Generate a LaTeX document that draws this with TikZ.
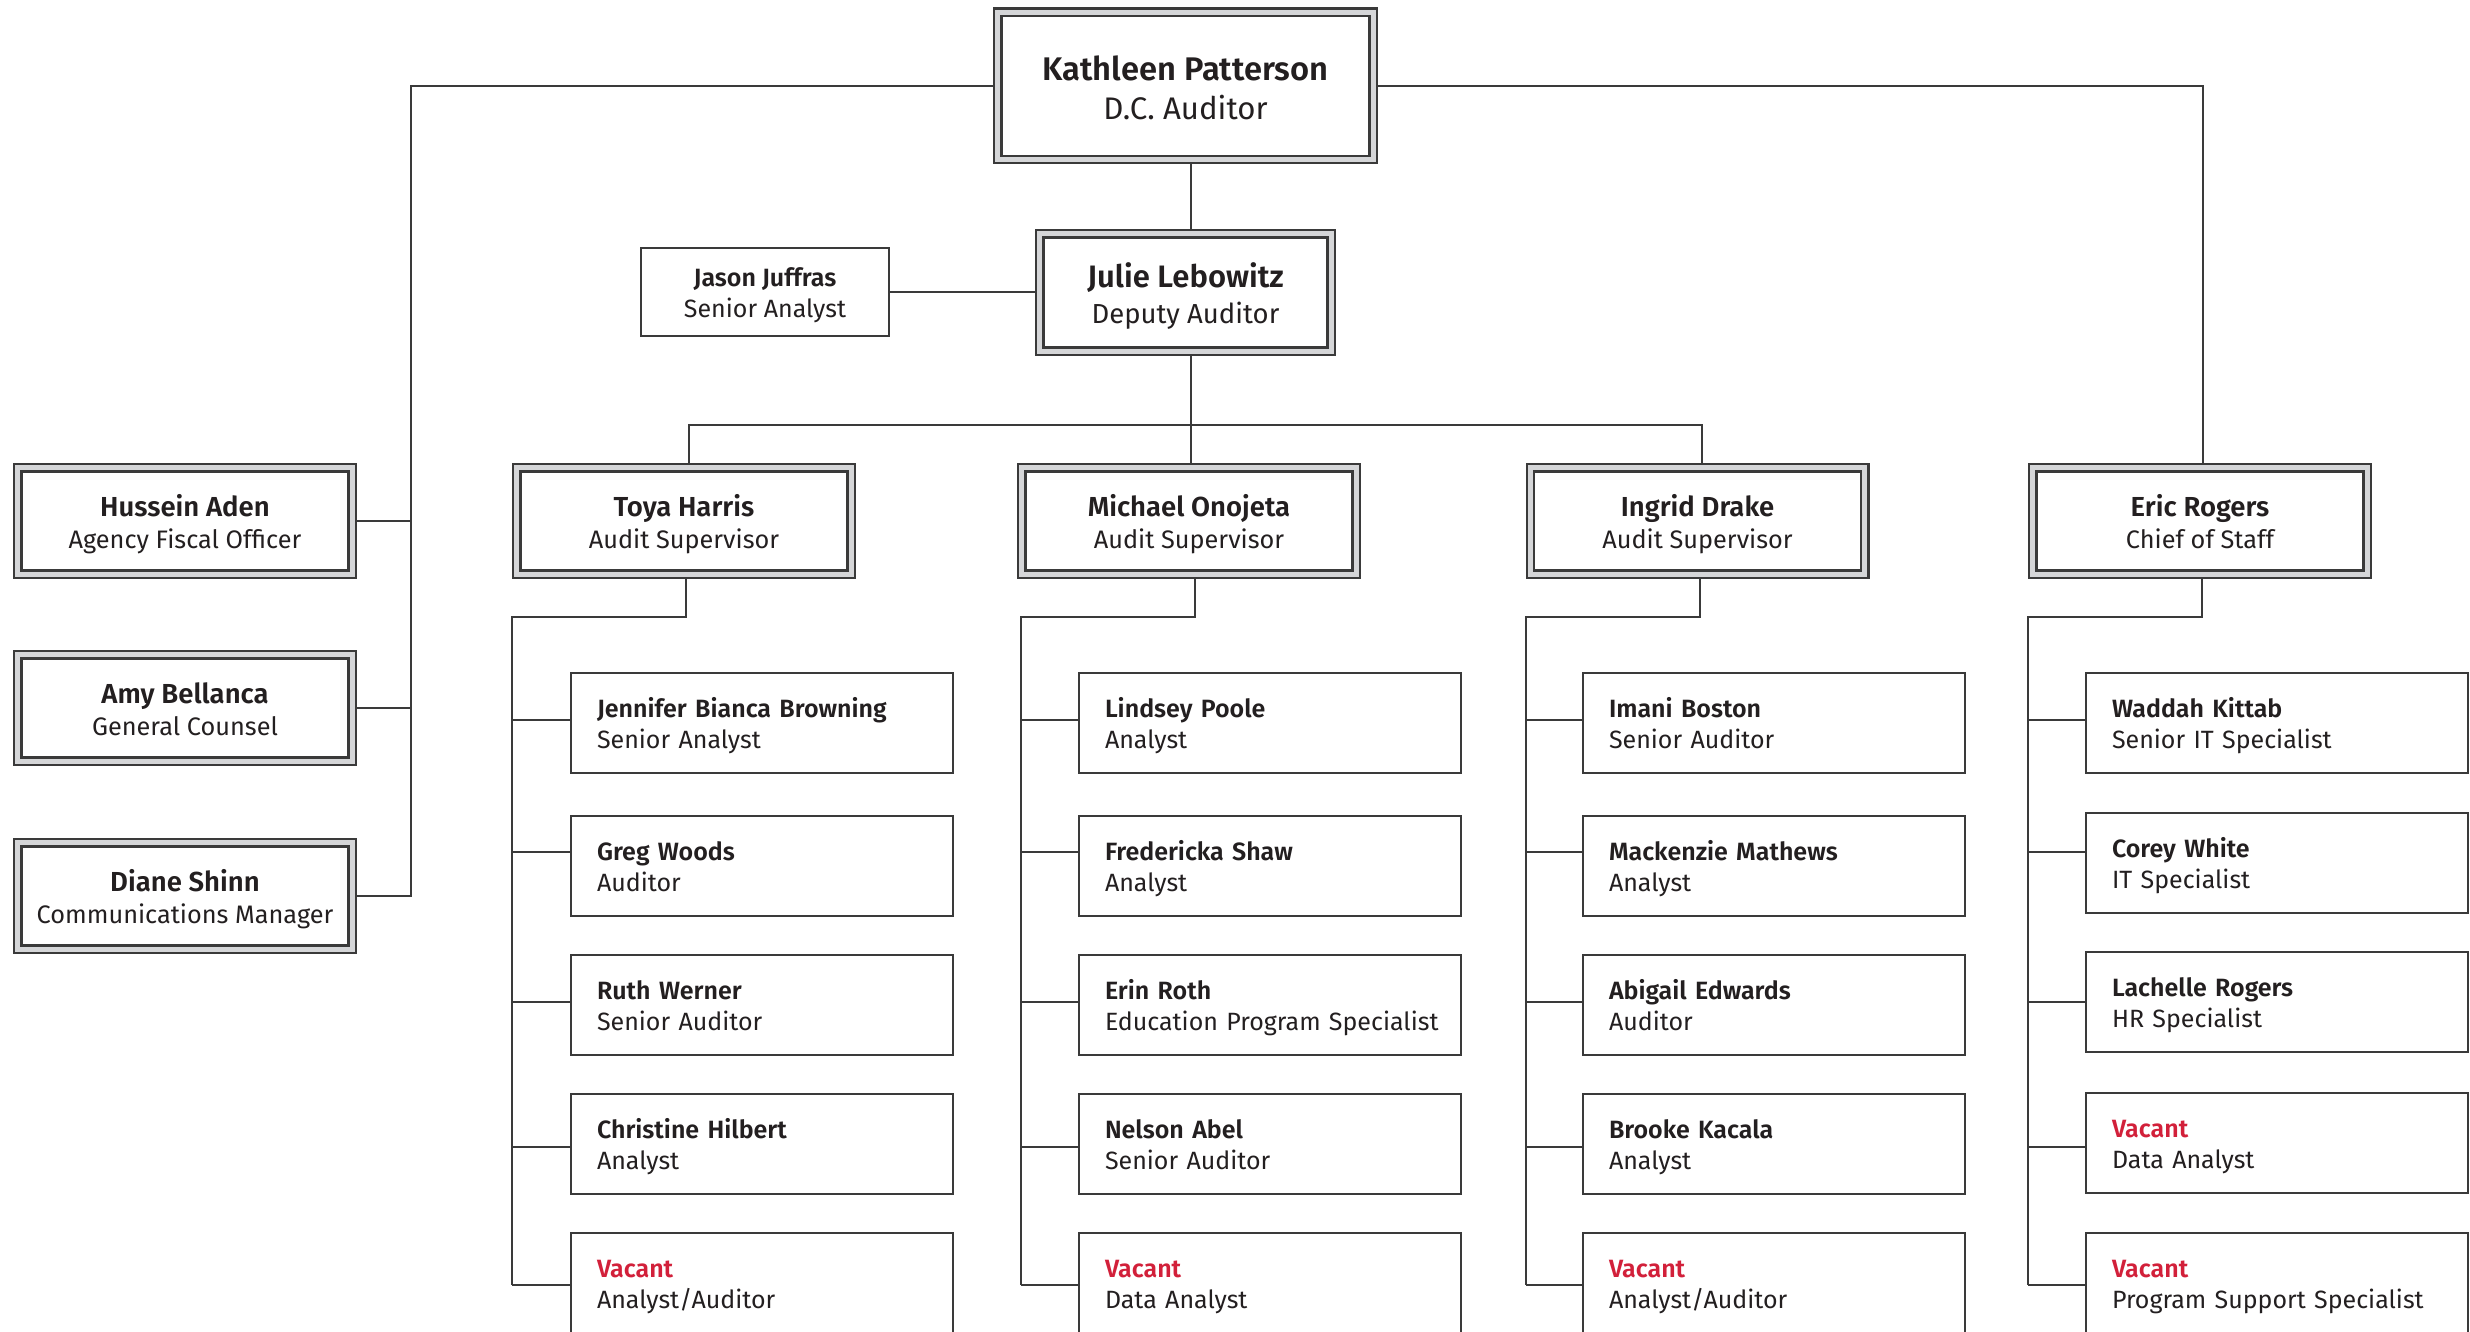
\documentclass[tikz,border=0pt]{standalone}
\usepackage{fontspec}
\setmainfont{Fira Sans}[BoldFont={Fira Sans SemiBold}]
\definecolor{ink}{HTML}{231F20}
\definecolor{linec}{HTML}{3A3A3A}
\definecolor{band}{HTML}{D5D6D8}
\definecolor{vac}{HTML}{D2203A}
\newcommand\vac{\textcolor{vac}{Vacant}}
% #1 top strut, #2 bottom strut, #3 name (with font), #4 title
\newcommand\nt[4]{\rule{0pt}{#1}{\bfseries #3}\\#4\rule[-#2]{0pt}{#2}}
\newcommand\ltx[4]{\mbox{\rule{0pt}{#1}{\bfseries #3}}\\\mbox{#4\rule[-#2]{0pt}{#2}}}
\begin{document}
\begin{tikzpicture}[x=1pt,y=-1pt,
  conn/.style={draw=linec,line width=2pt},
  dbox/.style={draw=linec,line width=2.2pt,double=band,double distance=5.2pt,fill=white,outer sep=4.8pt,inner sep=0pt,align=center,text=ink},
  sbox/.style={draw=linec,line width=2pt,fill=white,outer sep=1pt,inner sep=0pt,text=ink},
  leaf/.style={sbox,minimum width=382pt,minimum height=100pt,text width=330pt,inner xsep=26pt,inner ysep=0pt,align=left,anchor=north west,font=\fontsize{25}{31}\selectfont},
  lvtwo/.style={dbox,minimum width=334.4pt,minimum height=106.4pt,font=\fontsize{25.3}{32}\selectfont},
]
\useasboundingbox (0,0) rectangle (2470,1332);
\clip (0,0) rectangle (2470,1332);
\fill[white] (0,0) rectangle (2470,1332);

% top level
\node[dbox,minimum width=375.4pt,minimum height=147.4pt,font=\fontsize{31.2}{39}\selectfont] (K) at (1185.5,86)
  {\nt{37pt}{9pt}{\fontsize{32.7}{39}\selectfont Kathleen Patterson}{D.C. Auditor}};
\node[dbox,minimum width=291.4pt,minimum height=117.4pt,font=\fontsize{27.5}{35.6}\selectfont] (J) at (1185.5,292.5)
  {\nt{35pt}{9pt}{\fontsize{31}{35.6}\selectfont Julie Lebowitz}{Deputy Auditor}};
\node[sbox,minimum width=248pt,minimum height=88pt,align=center,font=\fontsize{25}{31}\selectfont] (JJ) at (765,292)
  {\nt{28.4pt}{8pt}{Jason Juffras}{Senior Analyst}};

% second level
\newcommand\lvn{\fontsize{27.5}{32}\selectfont}
\node[lvtwo] (H) at (185,521) {\nt{31.6pt}{8pt}{\lvn Hussein Aden}{Agency Fiscal Officer}};
\node[lvtwo] (A) at (185,708) {\nt{31.6pt}{8pt}{\lvn Amy Bellanca}{General Counsel}};
\node[lvtwo] (D) at (185,896) {\nt{31.6pt}{8pt}{\lvn Diane Shinn}{Communications Manager}};
\node[lvtwo] (T) at (684,521) {\nt{31.6pt}{8pt}{\lvn Toya Harris}{Audit Supervisor}};
\node[lvtwo] (M) at (1189,521) {\nt{31.6pt}{8pt}{\lvn Michael Onojeta}{Audit Supervisor}};
\node[lvtwo] (I) at (1697.5,521) {\nt{31.6pt}{8pt}{\lvn Ingrid Drake}{Audit Supervisor}};
\node[lvtwo] (E) at (2200,521) {\nt{31.6pt}{8pt}{\lvn Eric Rogers}{Chief of Staff}};

% leaves
\newcommand\lf[5]{\node[leaf] (#1) at (#2+1,#3+1) {\ltx{28.4pt}{8pt}{#4}{#5}};}
\lf{T1}{569}{671}{Jennifer Bianca Browning}{Senior Analyst}
\lf{T2}{569}{813.5}{Greg Woods}{Auditor}
\lf{T3}{569}{953}{Ruth Werner}{Senior Auditor}
\lf{T4}{569}{1092}{Christine Hilbert}{Analyst}
\lf{T5}{569}{1231}{\vac}{Analyst/Auditor}
\lf{M1}{1077}{671}{Lindsey Poole}{Analyst}
\lf{M2}{1077}{813.5}{Fredericka Shaw}{Analyst}
\lf{M3}{1077}{953}{Erin Roth}{Education Program Specialist}
\lf{M4}{1077}{1092}{Nelson Abel}{Senior Auditor}
\lf{M5}{1077}{1231}{\vac}{Data Analyst}
\lf{I1}{1581}{671}{Imani Boston}{Senior Auditor}
\lf{I2}{1581}{813.5}{Mackenzie Mathews}{Analyst}
\lf{I3}{1581}{953}{Abigail Edwards}{Auditor}
\lf{I4}{1581}{1092}{Brooke Kacala}{Analyst}
\lf{I5}{1581}{1231}{\vac}{Analyst/Auditor}
\lf{E1}{2084}{671}{Waddah Kittab}{Senior IT Specialist}
\lf{E2}{2084}{811}{Corey White}{IT Specialist}
\lf{E3}{2084}{950}{Lachelle Rogers}{HR Specialist}
\lf{E4}{2084}{1091}{\vac}{Data Analyst}
\lf{E5}{2084}{1231}{\vac}{Program Support Specialist}

% connectors: top
\coordinate (lt) at (411,86);
\coordinate (rt) at (2203,86);
\coordinate (spine) at (1191,0);
\coordinate (busL) at (689,425);
\coordinate (busR) at (1702,425);
\draw[conn] (K.west) -- (lt) -- (lt |- D.east) -- (D.east);
\draw[conn] (H.east) -- (H.east -| lt);
\draw[conn] (A.east) -- (A.east -| lt);
\draw[conn] (K.east) -- (rt) -- (rt |- E.north);
\draw[conn] (K.south -| spine) -- (J.north -| spine);
\draw[conn] (JJ.east) -- (JJ.east -| J.west);
\draw[conn] (J.south -| spine) -- (M.north -| spine);
\draw[conn] (busL |- T.north) -- (busL) -- (busR) -- (busR |- I.north);

% supervisors to columns
\draw[conn] (T.south -| 686,0) -- (686,617) -- (512,617) -- (512,1285);
\draw[conn] (M.south -| 1195,0) -- (1195,617) -- (1021,617) -- (1021,1285);
\draw[conn] (I.south -| 1700,0) -- (1700,617) -- (1526,617) -- (1526,1285);
\draw[conn] (E.south -| 2202,0) -- (2202,617) -- (2028,617) -- (2028,1285);
\foreach \c/\vx in {T/512,M/1021,I/1526,E/2028}
  \foreach \r/\by in {1/720,2/852,3/1002,4/1147,5/1285}
    \draw[conn] (\vx,\by) -- (\c\r.west |- 0,\by);
\end{tikzpicture}
\end{document}
